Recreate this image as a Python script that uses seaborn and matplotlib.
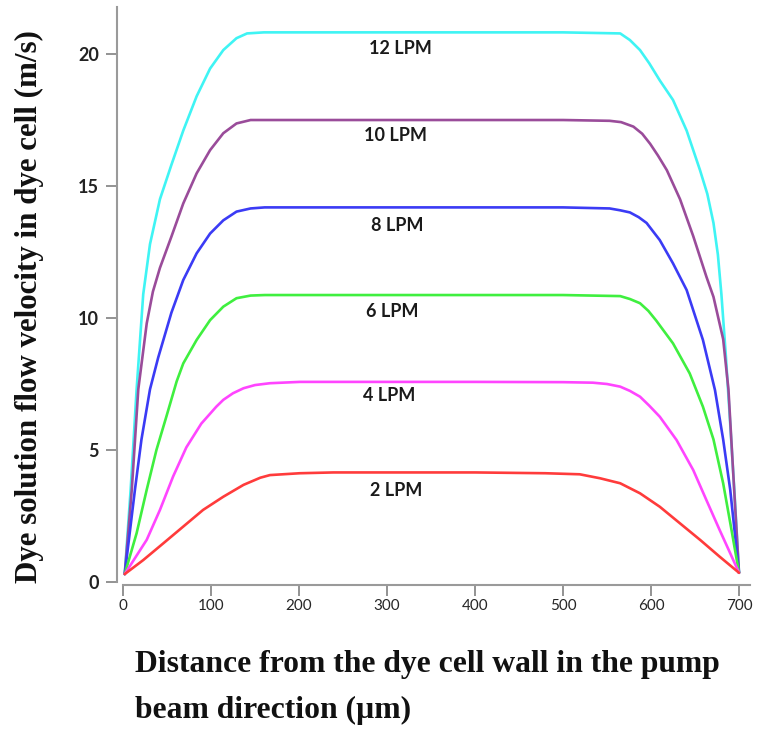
import numpy as np
import pandas as pd
import seaborn as sns
import matplotlib
matplotlib.use("Agg")
import matplotlib.pyplot as plt

# ---- data ----
x_12 = [2, 8.7, 15.5, 23, 30.7, 42, 55, 68.5, 83.7, 99, 114, 129, 141, 160, 300, 400, 500, 565, 576, 587.5, 598, 610, 625, 640.5, 655.7, 664, 671, 676, 680, 685, 690, 695, 700]
y_12 = [0.3, 3.5, 7.3, 10.9, 12.8, 14.5, 15.8, 17.1, 18.4, 19.45, 20.15, 20.6, 20.78, 20.82, 20.82, 20.82, 20.82, 20.78, 20.53, 20.15, 19.65, 19.0, 18.26, 17.1, 15.6, 14.7, 13.6, 12.4, 10.9, 8.6, 6.0, 3.3, 0.35]

x_10 = [2, 10, 17.4, 27, 34, 42, 55, 68.5, 83.7, 99, 114, 129, 145, 200, 300, 400, 500, 553, 566, 580, 590, 599, 608, 618, 633, 648, 663, 671, 682, 688, 694.5, 700]
y_10 = [0.3, 3.5, 7.3, 9.8, 11.0, 11.9, 13.08, 14.34, 15.48, 16.36, 17.0, 17.37, 17.5, 17.5, 17.5, 17.5, 17.5, 17.47, 17.42, 17.25, 16.98, 16.6, 16.15, 15.6, 14.5, 13.1, 11.56, 10.8, 9.2, 7.3, 3.5, 0.35]

x_8 = [2, 13.6, 21, 30.7, 40, 55, 68.5, 83.7, 99, 114, 129, 145, 161, 300, 400, 500, 553, 565, 576, 586, 595, 610, 625, 640.5, 659, 672.7, 682, 690, 700]
y_8 = [0.3, 3.5, 5.4, 7.3, 8.5, 10.2, 11.44, 12.45, 13.2, 13.7, 14.03, 14.15, 14.19, 14.19, 14.19, 14.19, 14.15, 14.08, 14.0, 13.82, 13.6, 12.95, 12.07, 11.06, 9.17, 7.27, 5.4, 3.5, 0.35]

x_6 = [2, 15.5, 27, 38, 49.6, 61, 68.5, 83.7, 99, 114, 129, 145, 161, 300, 400, 500, 565, 576, 587.5, 597, 606, 625, 644, 659, 671, 682, 691.5, 700]
y_6 = [0.3, 1.85, 3.5, 5.0, 6.3, 7.6, 8.28, 9.17, 9.92, 10.43, 10.75, 10.85, 10.87, 10.87, 10.87, 10.87, 10.83, 10.72, 10.56, 10.27, 9.9, 9.04, 7.9, 6.64, 5.4, 3.74, 1.97, 0.35]

x_4 = [2, 27, 42, 57, 72, 89, 106, 114, 125, 137, 150, 167, 201, 300, 400, 500, 534, 550, 565, 576, 587.5, 598, 610, 629, 648, 663, 678, 690, 700]
y_4 = [0.3, 1.6, 2.73, 4.0, 5.1, 6.0, 6.64, 6.9, 7.15, 7.34, 7.46, 7.53, 7.58, 7.58, 7.58, 7.57, 7.55, 7.5, 7.4, 7.24, 7.02, 6.68, 6.26, 5.38, 4.24, 3.1, 1.97, 1.09, 0.35]

x_2 = [2, 23, 46, 68.5, 91, 114, 137, 156, 167, 201, 239, 300, 400, 480, 519, 542, 565, 587.5, 610, 633, 656, 678, 700]
y_2 = [0.3, 0.83, 1.47, 2.1, 2.73, 3.23, 3.68, 3.95, 4.05, 4.12, 4.15, 4.15, 4.15, 4.12, 4.08, 3.93, 3.74, 3.36, 2.85, 2.22, 1.59, 0.96, 0.35]

series_names = ["12 LPM", "10 LPM", "8 LPM", "6 LPM", "4 LPM", "2 LPM"]
series_x = [x_12, x_10, x_8, x_6, x_4, x_2]
series_y = [y_12, y_10, y_8, y_6, y_4, y_2]
label_x = [315, 310, 312, 306, 303, 310]
label_y = [20.2, 16.9, 13.5, 10.25, 7.05, 3.45]

x_ticks = [0, 100, 200, 300, 400, 500, 600, 700]
y_ticks = [0, 5, 10, 15, 20]

colors = ["#3ff4f4", "#9a4c9a", "#3b3bf5", "#3fef3f", "#ff45ff", "#ff3b3b"]

# ---- build table ----
frames = []
for name, xs, ys in zip(series_names, series_x, series_y):
    frames.append(pd.DataFrame({"x": xs, "y": ys, "flow": name}))
df = pd.concat(frames, ignore_index=True)

sns.set_theme(style="white")
plt.rcParams["font.family"] = ["Lato", "DejaVu Sans"]
plt.rcParams["lines.solid_joinstyle"] = "round"

W, H = 763, 729
fig = plt.figure(figsize=(W / 100, H / 100), dpi=100)
ax = fig.add_axes([117 / W, (H - 582) / H, (756.6 - 117) / W, (582 - 6.5) / H])

sns.lineplot(data=df, x="x", y="y", hue="flow", hue_order=series_names,
             palette=dict(zip(series_names, colors)), sort=False, estimator=None,
             units="flow", linewidth=1.9, legend=False, ax=ax)

ax.set_xlim(-6.8, 720)
ax.set_ylim(0, 21.8)
ax.set_xticks(x_ticks)
ax.set_yticks(y_ticks)
ax.set_xticklabels([str(t) for t in x_ticks], fontsize=13, fontweight="bold", color="#222222")
ax.set_yticklabels([str(t) for t in y_ticks], fontsize=13, fontweight="bold", color="#222222")

for s in ["top", "right"]:
    ax.spines[s].set_visible(False)
for s in ["left", "bottom"]:
    ax.spines[s].set_color("#9a9a9a")
    ax.spines[s].set_linewidth(1.5)
ax.spines["bottom"].set_position(("outward", 2))
ax.spines["bottom"].set_bounds(0, 712)
ax.spines["left"].set_bounds(0, 21.8)
ax.tick_params(axis="both", which="major", direction="out", length=8, width=1.3,
               color="#8a8a8a", left=True, bottom=True)
ax.tick_params(axis="y", pad=5)
ax.tick_params(axis="x", pad=2)

for name, lx, ly in zip(series_names, label_x, label_y):
    ax.text(lx, ly, name, ha="center", va="center", fontsize=13,
            fontweight="bold", color="#1a1a1a")

serif = ["Liberation Serif", "DejaVu Serif"]
ax.set_ylabel("Dye solution flow velocity in dye cell (m/s)", fontsize=22.3,
              fontweight="bold", family=serif, color="#111111")
ax.yaxis.set_label_coords(-0.114, 0.478)
ax.set_xlabel("Distance from the dye cell wall in the pump\nbeam direction (\u00b5m)",
              fontsize=22.8, fontweight="bold", family=serif, color="#111111",
              ha="left", linespacing=1.73)
ax.xaxis.set_label_coords(0.028, -0.119)

fig.savefig("out.png", dpi=100, facecolor="white")
